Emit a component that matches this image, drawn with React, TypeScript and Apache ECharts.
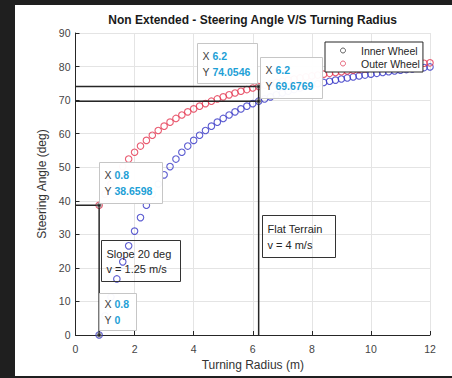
import React, { useEffect, useRef } from "react";
import * as echarts from "echarts";

// Turning radius (m) sampled every 0.2 m
const turningRadius = [
  0.8, 1.0, 1.2, 1.4, 1.6, 1.8, 2.0, 2.2, 2.4, 2.6, 2.8, 3.0, 3.2, 3.4, 3.6, 3.8,
  4.0, 4.2, 4.4, 4.6, 4.8, 5.0, 5.2, 5.4, 5.6, 5.8, 6.0, 6.2, 6.4, 6.6, 6.8, 7.0,
  7.2, 7.4, 7.6, 7.8, 8.0, 8.2, 8.4, 8.6, 8.8, 9.0, 9.2, 9.4, 9.6, 9.8, 10.0, 10.2,
  10.4, 10.6, 10.8, 11.0, 11.2, 11.4, 11.6, 11.8, 12.0,
];

// Steering angle (deg), inner wheel
const innerAngle = [
  0, 5.71, 11.31, 16.7, 21.8, 26.57, 30.96, 34.99, 38.66, 41.99, 45.0, 47.73, 50.19,
  52.43, 54.46, 56.31, 58.0, 59.53, 60.95, 62.24, 63.43, 64.54, 65.56, 66.5, 67.38,
  68.2, 68.96, 69.68, 70.35, 70.97, 71.57, 72.12, 72.65, 73.14, 73.61, 74.05, 74.48,
  74.88, 75.26, 75.62, 75.96, 76.29, 76.61, 76.91, 77.2, 77.47, 77.74, 77.99, 78.23,
  78.47, 78.69, 78.91, 79.11, 79.32, 79.51, 79.7, 79.88,
];

// Steering angle (deg), outer wheel
const outerAngle = [
  38.66, 41.99, 45.0, 47.73, 50.19, 52.43, 54.46, 56.31, 58.0, 59.53, 60.95, 62.24,
  63.43, 64.54, 65.56, 66.5, 67.38, 68.2, 68.96, 69.68, 70.35, 70.97, 71.57, 72.12,
  72.65, 73.14, 73.61, 74.05, 74.48, 74.88, 75.26, 75.62, 75.96, 76.29, 76.61, 76.91,
  77.2, 77.47, 77.74, 77.99, 78.23, 78.47, 78.69, 78.91, 79.11, 79.32, 79.51, 79.7,
  79.88, 80.05, 80.22, 80.38, 80.54, 80.69, 80.84, 80.98, 81.12,
];

// Data tips
const tipX = [6.2, 6.2, 0.8, 0.8];
const tipY = [74.0546, 69.6769, 38.6598, 0];
const tipXText = ["6.2", "6.2", "0.8", "0.8"];
const tipYText = ["74.0546", "69.6769", "38.6598", "0"];

// Text annotations
const slopeNote = ["Slope 20 deg", "v = 1.25 m/s"];
const flatNote = ["Flat Terrain", "v = 4 m/s"];

const FONT = "'Liberation Sans', Arial, Helvetica, sans-serif";

export default function App() {
  const ref = useRef<HTMLDivElement>(null);

  useEffect(() => {
    if (!ref.current) return;
    const chart = echarts.init(ref.current, undefined, { renderer: "svg" });

    const axisCommon = {
      axisLine: { show: true, onZero: false, lineStyle: { color: "#262626", width: 1 } },
      axisTick: { show: true, inside: true, length: 4, lineStyle: { color: "#262626" } },
      splitLine: { show: true, lineStyle: { color: "#e4e4e4", width: 1 } },
      nameLocation: "middle" as const,
      nameTextStyle: { color: "#333", fontSize: 12, fontFamily: FONT },
    };

    const refLineStyle = { color: "#262626", width: 1.5 };

    chart.setOption({
      animation: false,
      textStyle: { fontFamily: FONT },
      title: {
        text: "Non Extended - Steering Angle V/S Turning Radius",
        left: 252.7,
        top: 14,
        textAlign: "center",
        padding: 0,
        textStyle: { fontSize: 12, fontWeight: "bold", color: "#1a1a1a", fontFamily: FONT },
      },
      grid: { left: 75.5, top: 33, width: 354.5, height: 302 },
      xAxis: {
        type: "value",
        min: 0,
        max: 12,
        interval: 2,
        name: "Turning Radius (m)",
        nameGap: 23,
        axisLabel: { color: "#444", fontSize: 10.5, margin: 8, fontFamily: FONT },
        ...axisCommon,
      },
      yAxis: {
        type: "value",
        min: 0,
        max: 90,
        interval: 10,
        name: "Steering Angle (deg)",
        nameGap: 21,
        axisLabel: { color: "#444", fontSize: 10.5, margin: 5, fontFamily: FONT },
        ...axisCommon,
      },
      legend: {
        data: [
          {
            name: "Inner Wheel",
            itemStyle: { color: "rgba(0,0,0,0)", borderColor: "#3a3a3a", borderWidth: 1 },
          },
          {
            name: "Outer Wheel",
            itemStyle: { color: "rgba(0,0,0,0)", borderColor: "#e0405a", borderWidth: 1 },
          },
        ],
        icon: "circle",
        orient: "vertical",
        left: 325,
        top: 42,
        itemWidth: 26,
        itemHeight: 5,
        itemGap: 0,
        padding: [2, 3, 2, 15],
        borderColor: "#262626",
        borderWidth: 1,
        backgroundColor: "#ffffff",
        selectedMode: false,
        z: 50,
        textStyle: { fontSize: 10.5, color: "#262626", lineHeight: 13, fontFamily: FONT },
      },
      series: [
        {
          type: "line",
          silent: true,
          symbol: "none",
          lineStyle: refLineStyle,
          data: [
            [0, tipY[0]],
            [tipX[0], tipY[0]],
            [tipX[0], tipY[3]],
          ],
        },
        {
          type: "line",
          silent: true,
          symbol: "none",
          lineStyle: refLineStyle,
          data: [
            [0, tipY[1]],
            [tipX[1], tipY[1]],
          ],
        },
        {
          type: "line",
          silent: true,
          symbol: "none",
          lineStyle: refLineStyle,
          data: [
            [0, tipY[2]],
            [tipX[2], tipY[2]],
            [tipX[3], tipY[3]],
          ],
        },
        {
          name: "Inner Wheel",
          type: "scatter",
          symbol: "circle",
          symbolSize: 6.5,
          itemStyle: { color: "rgba(0,0,0,0)", borderColor: "#3434c6", borderWidth: 1.1 },
          data: turningRadius.map((x, i) => [x, innerAngle[i]]),
        },
        {
          name: "Outer Wheel",
          type: "scatter",
          symbol: "circle",
          symbolSize: 6.5,
          itemStyle: { color: "rgba(0,0,0,0)", borderColor: "#e4354f", borderWidth: 1.1 },
          data: turningRadius.map((x, i) => [x, outerAngle[i]]),
        },
        {
          type: "scatter",
          silent: true,
          symbol: "circle",
          symbolSize: 4,
          itemStyle: { color: "#111", borderColor: "rgba(140,140,140,0.55)", borderWidth: 2 },
          data: tipX.map((x, i) => [x, tipY[i]]),
          z: 5,
        },
      ],
    });

    // Data tip boxes anchored on their data points
    const tipLayouts = [
      { dx: -62, dy: -44, w: 60, h: 40 },
      { dx: 1, dy: -44, w: 62, h: 41 },
      { dx: 0, dy: -43, w: 63, h: 41 },
      { dx: 0, dy: -42, w: 37, h: 37 },
    ];
    const rich = {
      l: { fill: "#404040", fontSize: 10.5, lineHeight: 16, fontFamily: FONT },
      v: { fill: "#1e9fd6", fontSize: 10.5, lineHeight: 16, fontWeight: "bold", fontFamily: FONT },
    };
    const tipGraphics = tipX.map((x, i) => {
      const p = chart.convertToPixel({ gridIndex: 0 }, [x, tipY[i]]) as number[];
      const lay = tipLayouts[i];
      return {
        type: "group",
        x: Math.round(p[0] + lay.dx) + 0.5,
        y: Math.round(p[1] + lay.dy) + 0.5,
        z: 100,
        children: [
          {
            type: "rect",
            z: 100,
            shape: { x: 0, y: 0, width: lay.w, height: lay.h },
            style: { fill: "rgba(255,255,255,0.96)", stroke: "#c6c6c6", lineWidth: 1 },
          },
          {
            type: "text",
            z: 101,
            x: 5,
            y: lay.h / 2,
            style: {
              text: `{l|X} {v|${tipXText[i]}}\n{l|Y} {v|${tipYText[i]}}`,
              rich,
              verticalAlign: "middle",
              fontSize: 10.5,
              fontFamily: FONT,
            },
          },
        ],
      };
    });

    const noteBox = (lines: string[], x: number, y: number, w: number, h: number, lh: number) => ({
      type: "group",
      x: x + 0.5,
      y: y + 0.5,
      z: 100,
      children: [
        {
          type: "rect",
          z: 100,
          shape: { x: 0, y: 0, width: w, height: h },
          style: { fill: "none", stroke: "#333", lineWidth: 1 },
        },
        {
          type: "text",
          z: 101,
          x: 5,
          y: h / 2,
          style: {
            text: lines.join("\n"),
            fill: "#262626",
            fontSize: 11,
            lineHeight: lh,
            verticalAlign: "middle",
            fontFamily: FONT,
          },
        },
      ],
    });

    chart.setOption({
      graphic: [
        ...tipGraphics,
        noteBox(slopeNote, 101, 240, 79, 41, 15),
        noteBox(flatNote, 262, 215, 73, 42, 16),
      ],
    });

    return () => chart.dispose();
  }, []);

  return (
    <div
      style={{
        position: "fixed",
        left: 0,
        top: 0,
        width: 452,
        height: 378,
        background: "#1f1f1f",
        overflow: "hidden",
      }}
    >
      <div
        style={{
          position: "absolute",
          left: 15,
          top: 5,
          width: 437,
          height: 371,
          background: "#ffffff",
        }}
      />
      <div ref={ref} style={{ position: "absolute", left: 0, top: 0, width: 452, height: 378 }} />
    </div>
  );
}
